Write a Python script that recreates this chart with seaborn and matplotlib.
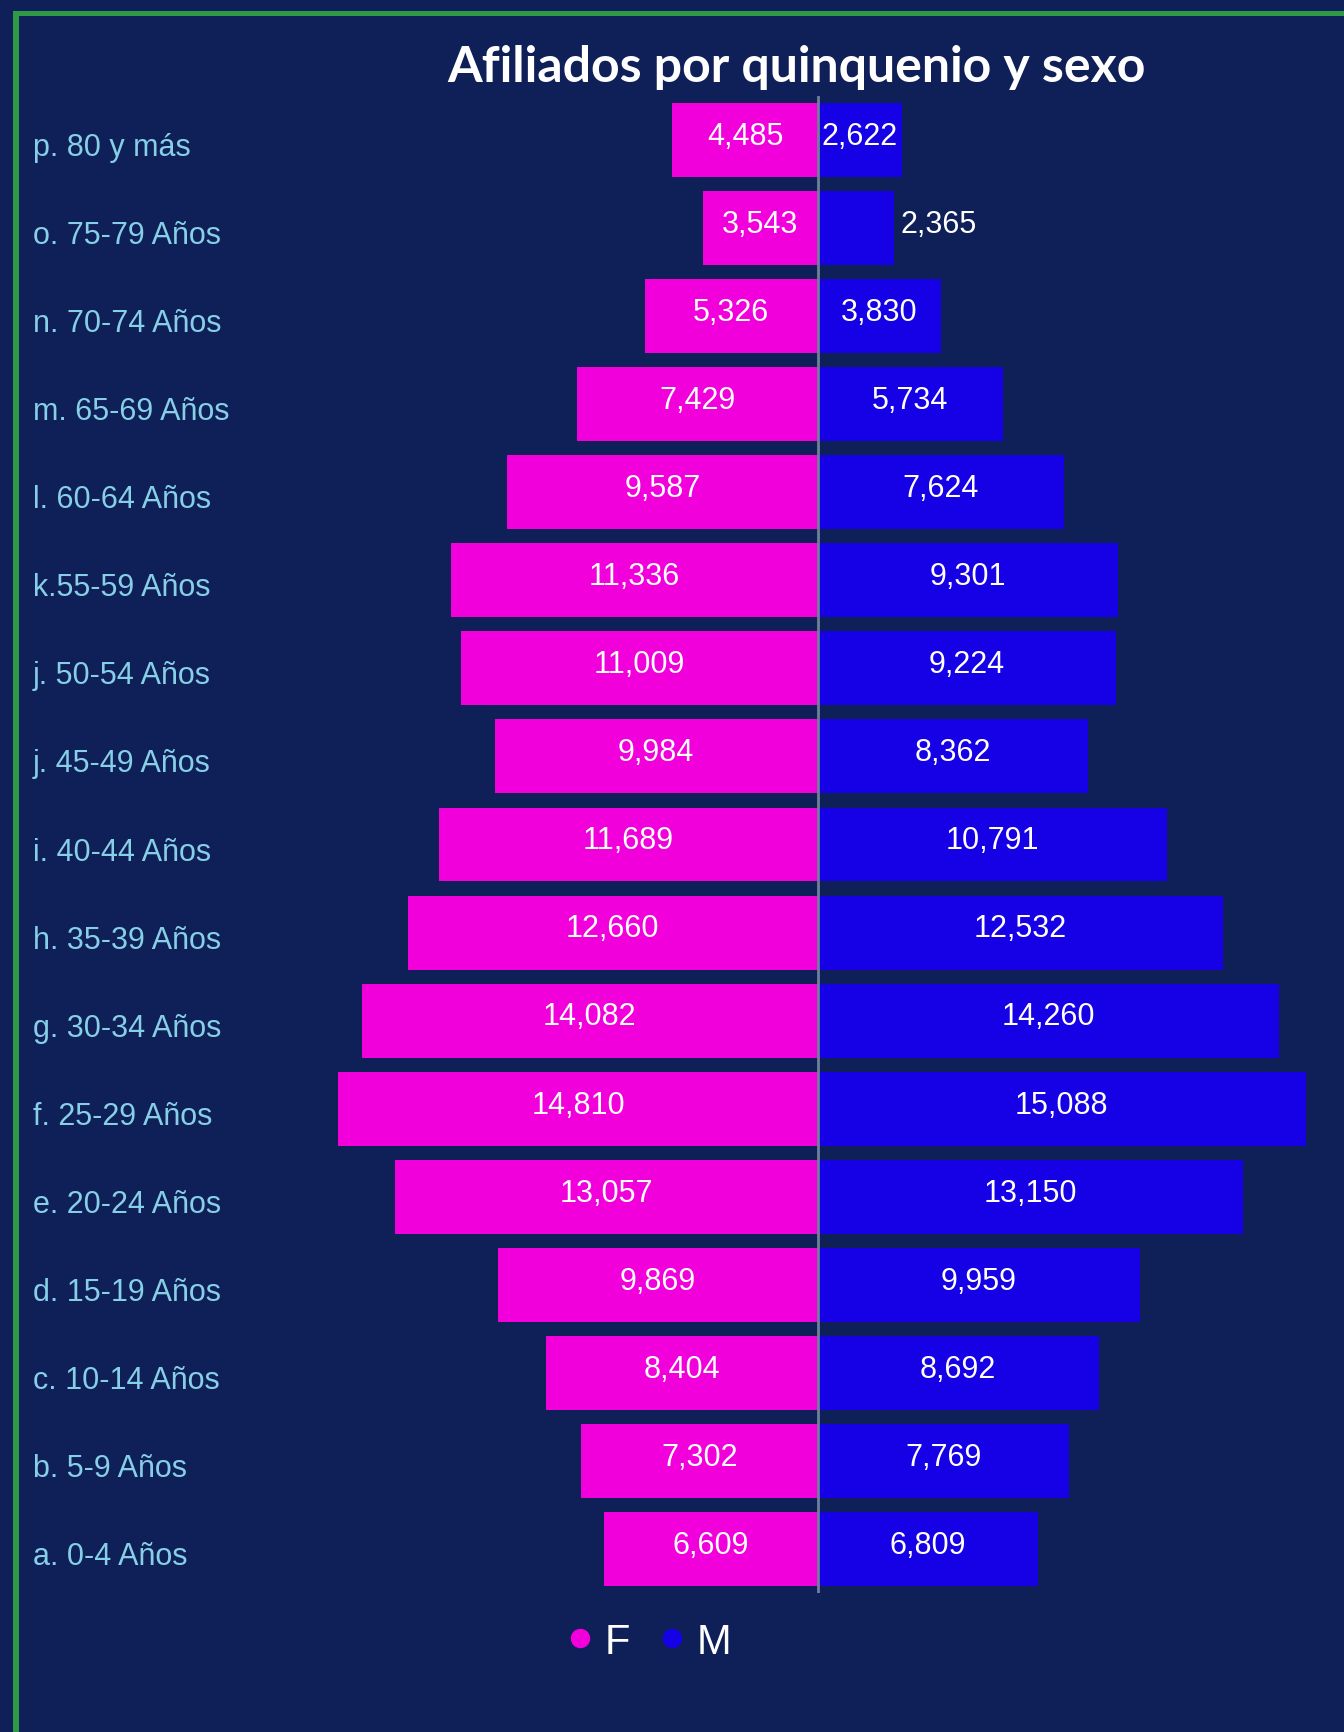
import matplotlib
matplotlib.use("Agg")
import pandas as pd
import matplotlib.pyplot as plt
import seaborn as sns
from matplotlib.lines import Line2D
from matplotlib.patches import Rectangle
from matplotlib.transforms import blended_transform_factory

grupos = ["p. 80 y más", "o. 75-79 Años", "n. 70-74 Años", "m. 65-69 Años",
          "l. 60-64 Años", "k.55-59 Años", "j. 50-54 Años", "j. 45-49 Años",
          "i. 40-44 Años", "h. 35-39 Años", "g. 30-34 Años", "f. 25-29 Años",
          "e. 20-24 Años", "d. 15-19 Años", "c. 10-14 Años", "b. 5-9 Años",
          "a. 0-4 Años"]
femenino = [4485, 3543, 5326, 7429, 9587, 11336, 11009, 9984, 11689, 12660,
            14082, 14810, 13057, 9869, 8404, 7302, 6609]
masculino = [2622, 2365, 3830, 5734, 7624, 9301, 9224, 8362, 10791, 12532,
             14260, 15088, 13150, 9959, 8692, 7769, 6809]
sexos = ["F", "M"]

fondo = "#0f1f58"
colores = {"F": "#f200dc", "M": "#1600e6"}
fuente = ["Liberation Sans", "DejaVu Sans"]

sns.set_theme(style="white")
plt.rcParams["font.family"] = fuente

# una clave por fila, porque hay etiquetas repetidas ("j.")
claves = [f"{i:02d}" for i in range(len(grupos))]
df = pd.DataFrame({
    "pos": claves * 2,
    "sexo": ["F"] * len(grupos) + ["M"] * len(grupos),
    "valor": [-v for v in femenino] + masculino,
})

W, H = 1344, 1733
fig = plt.figure(figsize=(W / 100, H / 100), dpi=100, facecolor=fondo)
ax = fig.add_axes([300 / W, 139 / H, 1035 / W, 1497 / H])
ax.set_facecolor(fondo)

sns.barplot(data=df, x="valor", y="pos", hue="sexo", orient="h", dodge=False,
            width=0.84, palette=colores, order=claves, hue_order=sexos,
            saturation=1, legend=False, linewidth=0, ax=ax)

ax.set_xlim(-16000, 16000)
ax.set_ylim(len(grupos) - 0.5, -0.5)
ax.axvline(0, color="#6f7f99", lw=2, zorder=5)
for s in ax.spines.values():
    s.set_visible(False)
ax.set_xticks([])
ax.set_yticks([])
ax.set_xlabel("")
ax.set_ylabel("")

px_unidad = ax.transData.transform((1, 0))[0] - ax.transData.transform((0, 0))[0]
datos = {"F": femenino, "M": masculino}
for cont, sexo in zip(ax.containers, sexos):
    for p in cont:
        i = int(round(p.get_y() + p.get_height() / 2))
        v = datos[sexo][i]
        x0, ancho = p.get_x(), p.get_width()
        yc = p.get_y() + p.get_height() / 2
        if abs(ancho) * px_unidad > 80:
            ax.annotate(f"{v:,}", (x0 + ancho / 2, yc), xytext=(0, 3),
                        textcoords="offset points", ha="center", va="center",
                        color="white", fontsize=22, zorder=6)
        else:
            ax.annotate(f"{v:,}", (x0 + ancho, yc), xytext=(5, 3),
                        textcoords="offset points", ha="left", va="center",
                        color="white", fontsize=22, zorder=6)

trans = blended_transform_factory(fig.transFigure, ax.transData)
for i, g in enumerate(grupos):
    ax.text(33 / W, i + 0.08, g, transform=trans, ha="left", va="center",
            color="#86cfe6", fontsize=22)

fig.text(796 / W, 1 - 68 / H, "Afiliados por quinquenio y sexo", ha="center",
         va="center", color="white", fontsize=36, fontweight="bold",
         family=["Lato", "Liberation Sans", "DejaVu Sans"])

handles = [Line2D([], [], marker="o", ls="", markersize=13,
                  markerfacecolor=colores[s], markeredgecolor=colores[s], label=s)
           for s in sexos]
fig.legend(handles=handles, loc="center", bbox_to_anchor=(647 / W, 1 - 1643 / H),
           ncol=2, frameon=False, fontsize=30, labelcolor="white",
           handletextpad=0.2, columnspacing=0.6, handlelength=0.8)

verde = "#2f9a45"
fig.add_artist(Rectangle((13 / W, 0), 6 / W, 1 - 12 / H, transform=fig.transFigure,
                         color=verde, lw=0))
fig.add_artist(Rectangle((13 / W, 1 - 17 / H), 1 - 13 / W, 5 / H,
                         transform=fig.transFigure, color=verde, lw=0))

fig.savefig("out.png", dpi=100, facecolor=fondo)
